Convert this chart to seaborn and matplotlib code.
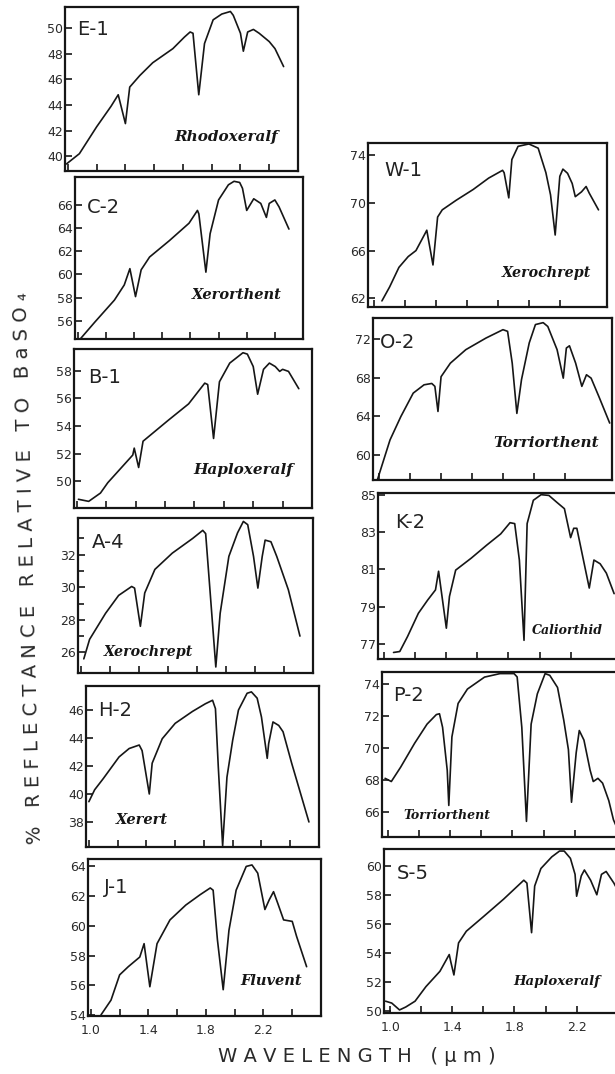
import matplotlib
matplotlib.use("Agg")
import matplotlib.pyplot as plt
import seaborn as sns

sns.set_style("ticks")
plt.rcParams["font.family"] = ["DejaVu Sans"]

# ---- reflectance spectra (wavelength in um, % reflectance relative to BaSO4) ----
e1_x = [0.99, 1.08, 1.20, 1.30, 1.35, 1.40, 1.43, 1.50, 1.59, 1.73, 1.81, 1.85, 1.87, 1.91, 1.95, 2.01,
        2.07, 2.13, 2.15, 2.20, 2.22, 2.25, 2.29, 2.33, 2.40, 2.44, 2.50]
e1_y = [39.4, 40.2, 42.3, 43.9, 44.8, 42.55, 45.4, 46.3, 47.3, 48.4, 49.3, 49.7, 49.6, 44.8, 48.8, 50.65,
        51.1, 51.3, 51.0, 49.6, 48.2, 49.7, 49.9, 49.6, 48.95, 48.4, 47.0]

c2_x = [1.02, 1.12, 1.26, 1.33, 1.37, 1.41, 1.45, 1.51, 1.65, 1.79, 1.85, 1.86, 1.91, 1.94, 2.00, 2.07,
        2.11, 2.15, 2.17, 2.20, 2.25, 2.30, 2.34, 2.36, 2.40, 2.43, 2.50]
c2_y = [54.5, 55.9, 57.8, 59.1, 60.5, 58.1, 60.4, 61.5, 62.9, 64.4, 65.5, 65.2, 60.2, 63.5, 66.4, 67.7,
        68.0, 67.9, 67.4, 65.5, 66.5, 66.1, 64.9, 66.1, 66.4, 65.8, 63.9]

b1_x = [1.01, 1.08, 1.16, 1.21, 1.38, 1.39, 1.42, 1.45, 1.62, 1.76, 1.87, 1.89, 1.93, 1.97, 2.04, 2.13,
        2.16, 2.20, 2.23, 2.27, 2.31, 2.35, 2.38, 2.40, 2.44, 2.51]
b1_y = [48.7, 48.55, 49.15, 49.9, 51.9, 52.4, 51.0, 52.9, 54.4, 55.6, 57.1, 57.0, 53.1, 57.2, 58.55, 59.3,
        59.2, 58.3, 56.3, 58.1, 58.55, 58.3, 57.95, 58.1, 57.95, 56.7]

a4_x = [1.02, 1.06, 1.17, 1.26, 1.35, 1.37, 1.41, 1.44, 1.51, 1.63, 1.77, 1.84, 1.86, 1.89, 1.93, 1.96,
        2.02, 2.08, 2.12, 2.15, 2.19, 2.22, 2.25, 2.27, 2.31, 2.35, 2.43, 2.51]
a4_y = [25.6, 26.8, 28.4, 29.5, 30.05, 29.95, 27.6, 29.65, 31.1, 32.1, 33.0, 33.5, 33.3, 29.8, 25.1, 28.4,
        31.9, 33.35, 34.05, 33.85, 31.9, 29.95, 31.9, 32.9, 32.8, 31.9, 29.85, 27.0]

h2_x = [1.00, 1.04, 1.10, 1.21, 1.28, 1.35, 1.37, 1.42, 1.44, 1.51, 1.60, 1.72, 1.81, 1.86, 1.88, 1.90,
        1.93, 1.96, 2.00, 2.04, 2.10, 2.13, 2.17, 2.20, 2.24, 2.25, 2.28, 2.32, 2.35, 2.41, 2.43, 2.53]
h2_y = [39.45, 40.3, 41.1, 42.65, 43.25, 43.5, 43.1, 40.0, 42.2, 43.95, 45.05, 45.9, 46.45, 46.7, 46.1, 41.9,
        36.3, 41.2, 43.85, 46.0, 47.2, 47.3, 46.85, 45.5, 42.55, 43.6, 45.15, 44.9, 44.45, 42.2, 41.5, 38.0]

j1_x = [1.07, 1.14, 1.20, 1.26, 1.34, 1.37, 1.41, 1.46, 1.55, 1.66, 1.76, 1.83, 1.85, 1.88, 1.92, 1.96,
        2.01, 2.08, 2.12, 2.16, 2.21, 2.24, 2.27, 2.30, 2.34, 2.40, 2.43, 2.50]
j1_y = [54.0, 55.0, 56.7, 57.25, 57.9, 58.8, 55.9, 58.8, 60.4, 61.4, 62.1, 62.55, 62.4, 59.05, 55.7, 59.7,
        62.4, 64.0, 64.1, 63.55, 61.1, 61.75, 62.3, 61.5, 60.4, 60.3, 59.3, 57.25]

w1_x = [1.05, 1.10, 1.16, 1.22, 1.27, 1.33, 1.34, 1.38, 1.41, 1.44, 1.53, 1.64, 1.74, 1.83, 1.84, 1.87,
        1.89, 1.93, 2.00, 2.06, 2.11, 2.14, 2.17, 2.20, 2.22, 2.25, 2.28, 2.30, 2.34, 2.37, 2.39, 2.42, 2.45]
w1_y = [61.8, 62.97, 64.6, 65.5, 66.0, 67.45, 67.7, 64.8, 68.8, 69.4, 70.2, 71.1, 72.05, 72.7, 72.5, 70.4,
        73.6, 74.7, 74.9, 74.55, 72.5, 70.65, 67.3, 72.2, 72.8, 72.45, 71.6, 70.5, 70.9, 71.35, 70.8, 70.1, 69.4]

o2_x = [0.99, 1.07, 1.14, 1.22, 1.29, 1.34, 1.36, 1.38, 1.40, 1.46, 1.56, 1.69, 1.80, 1.83, 1.86, 1.89,
        1.92, 1.97, 2.01, 2.06, 2.09, 2.15, 2.19, 2.21, 2.23, 2.27, 2.31, 2.34, 2.37, 2.42, 2.49]
o2_y = [57.5, 61.55, 63.97, 66.4, 67.26, 67.4, 67.1, 64.5, 68.1, 69.5, 70.9, 72.1, 72.97, 72.8, 69.5, 64.3,
        67.8, 71.6, 73.5, 73.7, 73.3, 70.9, 67.95, 71.07, 71.3, 69.5, 67.1, 68.3, 67.95, 66.05, 63.3]

k2_x = [1.06, 1.10, 1.15, 1.22, 1.28, 1.33, 1.35, 1.40, 1.42, 1.46, 1.56, 1.66, 1.75, 1.81, 1.84, 1.87,
        1.90, 1.92, 1.96, 2.01, 2.06, 2.11, 2.16, 2.20, 2.22, 2.24, 2.27, 2.32, 2.35, 2.39, 2.43, 2.48]
k2_y = [76.55, 76.6, 77.4, 78.65, 79.36, 79.9, 80.9, 77.85, 79.55, 80.96, 81.6, 82.3, 82.9, 83.5, 83.45, 81.5,
        77.2, 83.45, 84.7, 85.0, 84.96, 84.6, 84.25, 82.7, 83.2, 83.2, 82.0, 80.0, 81.5, 81.3, 80.8, 79.7]

p2_x = [0.98, 1.02, 1.08, 1.17, 1.25, 1.31, 1.33, 1.35, 1.38, 1.39, 1.41, 1.45, 1.51, 1.62, 1.72, 1.81,
        1.83, 1.86, 1.89, 1.92, 1.96, 2.01, 2.04, 2.09, 2.13, 2.16, 2.18, 2.21, 2.23, 2.26, 2.30, 2.32,
        2.35, 2.38, 2.42, 2.45, 2.49]
p2_y = [68.1, 67.9, 68.8, 70.3, 71.5, 72.1, 72.15, 71.3, 68.6, 66.4, 70.7, 72.8, 73.7, 74.45, 74.67, 74.67,
        74.46, 71.3, 65.4, 71.5, 73.4, 74.67, 74.56, 73.8, 71.75, 69.9, 66.6, 69.7, 71.1, 70.5, 68.6, 67.9,
        68.1, 67.8, 66.7, 65.5, 64.6]

s5_x = [0.97, 1.01, 1.06, 1.10, 1.16, 1.23, 1.32, 1.38, 1.39, 1.41, 1.44, 1.49, 1.60, 1.73, 1.82, 1.86,
        1.88, 1.91, 1.93, 1.97, 2.04, 2.09, 2.12, 2.16, 2.19, 2.20, 2.23, 2.25, 2.29, 2.33, 2.36, 2.39,
        2.44, 2.48]
s5_y = [50.7, 50.57, 50.1, 50.3, 50.7, 51.7, 52.75, 53.9, 53.4, 52.5, 54.7, 55.5, 56.5, 57.7, 58.6, 59.0,
        58.8, 55.4, 58.6, 59.8, 60.6, 61.0, 61.0, 60.5, 59.4, 57.9, 59.3, 59.7, 59.0, 58.0, 59.4, 59.6,
        58.8, 58.0]

sample_ids = ["E-1", "C-2", "B-1", "A-4", "H-2", "J-1", "W-1", "O-2", "K-2", "P-2", "S-5"]
soil_names = ["Rhodoxeralf", "Xerorthent", "Haploxeralf", "Xerochrept", "Xerert", "Fluvent",
              "Xerochrept", "Torriorthent", "Caliorthid", "Torriorthent", "Haploxeralf"]
spectra_x = [e1_x, c2_x, b1_x, a4_x, h2_x, j1_x, w1_x, o2_x, k2_x, p2_x, s5_x]
spectra_y = [e1_y, c2_y, b1_y, a4_y, h2_y, j1_y, w1_y, o2_y, k2_y, p2_y, s5_y]

y_ticks = [
    [40, 42, 44, 46, 48, 50],
    [56, 58, 60, 62, 64, 66],
    [50, 52, 54, 56, 58],
    [26, 28, 30, 32],
    [38, 40, 42, 44, 46],
    [54, 56, 58, 60, 62, 64],
    [62, 66, 70, 74],
    [60, 64, 68, 72],
    [77, 79, 81, 83, 85],
    [66, 68, 70, 72, 74],
    [50, 52, 54, 56, 58, 60],
]
x_tick_labels = ["1.0", "1.4", "1.8", "2.2"]
x_tick_values = [1.0, 1.4, 1.8, 2.2]
x_label = "WAVELENGTH (\u03bcm)"
y_label = "% REFLECTANCE RELATIVE TO BaSO\u2084"

# ---- layout (pixel boxes: left, right, top, bottom) ----
FW, FH = 615, 1074
boxes = [
    (65, 298, 7, 171), (75, 303, 177, 339), (74, 312, 349, 508),
    (78, 313, 518, 673), (86, 319, 686, 847), (88, 321, 859, 1016),
    (368, 607, 143, 307), (373, 612, 318, 480), (378, 618, 493, 659),
    (382, 622, 672, 837), (384, 624, 849, 1013),
]
ylims = [(38.85, 51.65), (54.46, 68.37), (48.07, 59.57), (24.73, 34.26), (36.21, 47.72), (53.93, 64.5),
         (61.29, 74.98), (57.4, 74.18), (76.2, 85.09), (64.42, 74.77), (49.89, 61.14)]
id_pos = [(0.05, 0.86), (0.05, 0.81), (0.06, 0.82), (0.06, 0.84), (0.05, 0.845), (0.07, 0.82),
          (0.07, 0.835), (0.03, 0.85), (0.07, 0.82), (0.045, 0.86), (0.055, 0.85)]
soil_pos = [(0.69, 0.21), (0.71, 0.27), (0.71, 0.24), (0.30, 0.135), (0.24, 0.17), (0.785, 0.22),
            (0.745, 0.21), (0.725, 0.23), (0.79, 0.17), (0.27, 0.13), (0.72, 0.19)]
soil_size = [11, 10.5, 11, 10.3, 10.5, 10.5, 10.3, 11, 9, 9, 9.5]

INK = "#161616"


def spaced(text):
    return "   ".join(" ".join(word) for word in text.split(" "))


fig = plt.figure(figsize=(FW / 100, FH / 100), dpi=100)
fig.patch.set_facecolor("white")

for i in range(len(sample_ids)):
    left, right, top, bottom = boxes[i]
    ax = fig.add_axes([left / FW, 1 - bottom / FH, (right - left) / FW, (bottom - top) / FH])
    sns.lineplot(x=spectra_x[i], y=spectra_y[i], ax=ax, color=INK, linewidth=1.2,
                 sort=False, estimator=None)
    right_col = i >= 6
    ax.set_xlim((0.96, 2.505) if right_col else (0.98, 2.6))
    ax.set_ylim(*ylims[i])

    ax.set_yticks(y_ticks[i])
    ax.set_yticklabels([str(v) for v in y_ticks[i]])
    if i == 3:
        ax.set_yticks([27, 29, 31, 33], minor=True)

    ax.set_xticks(x_tick_values)
    ax.set_xticks([1.2, 1.6, 2.0] if right_col else [1.2, 1.6, 2.0, 2.4], minor=True)
    bottom_row = sample_ids[i] in ("J-1", "S-5")
    if bottom_row:
        ax.set_xticklabels(x_tick_labels)
    else:
        ax.set_xticklabels([])

    ax.tick_params(axis="both", which="both", direction="in", length=5, width=1.2,
                   colors=INK, labelcolor="#2a2a2a", labelsize=9, pad=1.5)
    ax.tick_params(axis="x", which="major", pad=6)
    ax.tick_params(axis="y", which="minor", length=4)
    ax.set_xlabel("")
    ax.set_ylabel("")
    for spine in ax.spines.values():
        spine.set_visible(True)
        spine.set_linewidth(1.6)
        spine.set_color(INK)

    ax.text(id_pos[i][0], id_pos[i][1], sample_ids[i], transform=ax.transAxes,
            ha="left", va="center", fontsize=14, color="#222222")
    ax.text(soil_pos[i][0], soil_pos[i][1], soil_names[i], transform=ax.transAxes,
            ha="center", va="center", fontsize=soil_size[i], color=INK,
            family="DejaVu Serif", fontweight="bold", fontstyle="italic")

fig.text(28 / FW, 1 - 568 / FH, spaced(y_label), rotation=91.5, rotation_mode="anchor",
         ha="center", va="center", fontsize=14, color="#2a2a2a")
fig.text(357 / FW, 1 - 1057 / FH, spaced(x_label), ha="center", va="center",
         fontsize=14, color="#2a2a2a")

fig.savefig("out.png", dpi=100, facecolor="white")
